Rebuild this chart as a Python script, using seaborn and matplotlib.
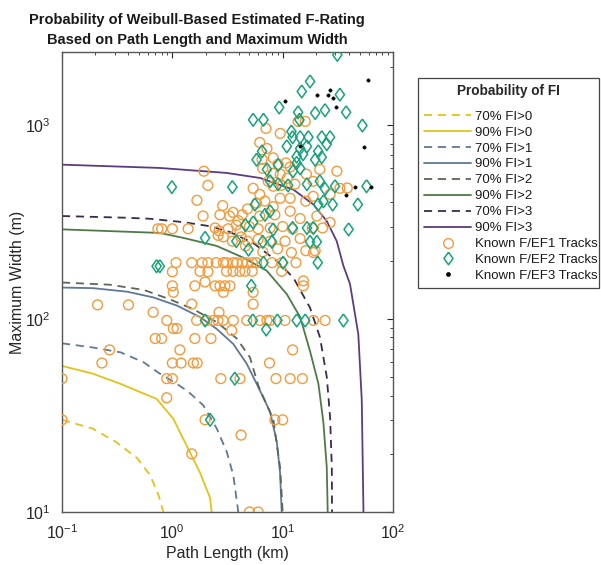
import numpy as np
import pandas as pd
import matplotlib
matplotlib.use("Agg")
import matplotlib.pyplot as plt
import seaborn as sns
from matplotlib.lines import Line2D
from matplotlib.ticker import LogLocator, NullFormatter

# ---------------- data ----------------
# contour curves: path length (km), max width (m)
c70_0_L = [0.1, 0.19, 0.31, 0.48, 0.63, 0.75, 0.83]
c70_0_W = [30, 27, 23, 19, 15.5, 12.2, 10]
c90_0_L = [0.1, 0.19, 0.34, 0.55, 0.72, 1.02, 1.35, 1.78, 2.2, 2.27]
c90_0_W = [57, 52, 46, 41, 38.5, 30.4, 22, 16, 11.8, 10]
c70_1_L = [0.1, 0.19, 0.34, 0.55, 0.77, 1.1, 1.39, 1.91, 2.53, 3.11, 3.57, 3.96]
c70_1_W = [74.6, 71, 67, 59.5, 52, 46, 42, 35.6, 27, 20.5, 15.5, 10]
c90_1_L = [0.1, 0.19, 0.39, 0.67, 1.1, 1.78, 2.53, 3.57, 4.73, 5.82, 7.69, 8.85, 9.47, 9.8]
c90_1_W = [145, 144, 138, 129, 117, 102, 88.5, 74, 58.4, 46, 33, 23, 16, 10]
c70_2_L = [0.1, 0.27, 0.55, 0.95, 1.55, 2.53, 3.84, 5.06, 6.02, 8.24, 9.47, 10.0]
c70_2_W = [154, 150, 141, 126, 112, 96, 79, 63, 45, 30, 17, 10]
c90_2_L = [0.1, 0.77, 1.26, 2.53, 4.4, 7.18, 10.9, 14.4, 17.7, 21.1, 23.4, 25.1, 25.6]
c90_2_W = [290, 278, 262, 238, 207, 177, 134, 102, 68, 46, 29, 17, 10]
c70_3_L = [0.1, 0.39, 0.63, 1.26, 2.2, 3.33, 5.5, 8.85, 12.5, 17.7, 21.8, 25.1, 26.9, 27.9, 28.0]
c70_3_W = [340, 333, 329, 316, 301, 281, 245, 199, 163, 114, 80, 50, 31, 17, 10]
c90_3_L = [0.1, 0.77, 3.11, 6.24, 12.5, 19, 25.1, 30.9, 35.5, 40.8, 48.5, 52.1, 54]
c90_3_W = [627, 603, 568, 535, 466, 390, 320, 252, 188, 151, 83, 38, 10]

curve_labels = ["70% FI>0", "90% FI>0", "70% FI>1", "90% FI>1",
                "70% FI>2", "90% FI>2", "70% FI>3", "90% FI>3"]

# known tracks: path length (km), max width (m)
ef1_L = [7.06, 16, 13.8, 9.5, 6.2, 7.2, 6.5, 8.2, 9.1, 10.7, 6.6, 8.2, 9.5, 11.7, 11, 7.4, 5.4, 6.2,
         5.8, 8.2, 9.8, 12.9, 16.4, 21.7, 31, 18.9, 33, 26.9, 16.2, 18.9, 11.7, 9.5, 8.2, 6.9, 4.8,
         4.3, 6.2, 8.5, 11.7, 14.4, 20.4, 12.3, 10, 7.7, 6, 5, 4.1, 4.8, 6, 7.7, 10.5, 14.4, 18.5,
         19.7, 16.2, 6.6, 9, 12, 38.5, 23, 26.9,
         1.93, 2.1, 1.67, 1.9, 2.86, 2.7, 3.3, 3.55, 3.95, 3.8, 0.74, 0.8, 1.0, 1.39, 2.44, 2.65,
         2.6, 2.9, 3.2, 3.5, 4.2, 4.6,
         1.08, 1.5, 1.86, 2.1, 2.5, 2.9, 3.1, 3.55, 3.85, 4.3, 4.75, 5.3, 5.8, 8, 9.8, 13.2,
         1.0, 1.78, 2.1, 3.1, 3.55, 4.1, 4.55, 5.3, 9.8, 15.4, 19,
         1.0, 1.6, 1.98, 2.44, 2.7, 3.0, 3.33, 15.4, 1.02, 2.9, 5.4, 1.5, 5.4, 2.65, 3.45,
         0.21, 0.4, 0.67, 0.89, 1.02, 1.1, 0.7, 0.8, 0.27, 0.23, 1.17, 1.0, 1.2, 1.55, 1.68,
         1.6, 2.24, 0.89, 1.0, 0.1, 2.75, 4.1, 8.7, 11.7, 15.1, 7.6, 12.3, 0.89, 0.1, 1.98,
         8.5, 10, 4.2, 1.5, 5.0, 6.0,
         1.66, 2.05, 2.35, 2.59, 2.88, 3.57, 4.73, 6.24, 7.2, 7.7, 10.5, 19, 24.2]
ef1_W = [966, 1050, 1050, 910, 817, 760, 668, 680, 630, 640, 600, 566, 560, 610, 533, 514, 473, 440,
         396, 485, 490, 497, 560, 593, 580, 514, 473, 440, 406, 430, 420, 420, 380, 406, 370,
         345, 340, 345, 360, 330, 340, 292, 300, 295, 292, 300, 285, 252, 258, 252, 252, 260, 295,
         225, 225, 222, 230, 220, 475, 295, 315,
         580, 490, 410, 340, 385, 345, 340, 355, 322, 305, 292, 292, 292, 292, 295, 285,
         270, 265, 292, 252, 265, 238,
         195, 195, 195, 195, 195, 195, 195, 195, 195, 195, 195, 195, 195, 195, 195, 195,
         175, 176, 175, 176, 176, 176, 176, 176, 176, 157, 220,
         148, 148, 155, 148, 148, 148, 148, 148, 137, 137, 137, 119, 119, 108, 87,
         118, 118, 108, 98, 89, 89, 79, 79, 69, 59, 69, 59, 59, 59, 59,
         79, 79, 49, 49, 49, 49, 49, 49, 49, 49, 59, 69, 39, 30, 30,
         30, 30, 25, 20, 10, 10,
         98, 98, 98, 98, 98, 98, 98, 98, 98, 98, 98, 98, 98]

ef2_L = [31.3, 17.7, 14.9, 33, 9.3, 13.8, 19.7, 24.2, 37.6, 52.8, 6.7, 14.2, 12, 12.3, 14.4, 17.1,
         22.6, 26.9, 25.1, 19.7, 21, 22.6, 5.4, 6.5, 5.8, 7.2, 10.9, 14.4, 16.6, 13.4, 15.3, 13.4,
         9.1, 12.4, 14.4, 11.2, 7.7, 9.1, 16.6, 21.7, 24.2, 29.8, 57.6, 48, 39.6, 21, 23.4, 28.4,
         0.99, 3.5, 1.98, 5.6, 6.9, 7.7, 5.4, 4.6, 6.6, 8.0, 12.3, 16.6, 19, 17.7, 20.4, 8.2,
         3.8, 4.9, 0.72, 0.77, 6.7, 10.1, 20.8, 5.2, 1.98, 5.36, 8.96, 13.4, 16, 35.5, 7.1,
         3.68, 2.2]
ef2_W = [2320, 1690, 1500, 1445, 1240, 1170, 1160, 1200, 1170, 1000, 1070, 1070, 930, 870, 870, 870,
         870, 870, 800, 665, 735, 685, 1070, 735, 665, 593, 780, 760, 780, 690, 710, 640,
         625, 580, 600, 490, 515, 497, 497, 515, 470, 485, 485, 390, 290, 390, 405, 390,
         480, 480, 262, 390, 345, 360, 315, 305, 250, 250, 295, 295, 295, 250, 250, 290,
         252, 228, 187, 187, 195, 195, 195, 148, 98, 98, 98, 98, 98, 98, 88,
         49, 30]

ef3_L = [10.5, 20.4, 26.9, 25.9, 28.4, 30.5, 59.8, 55, 14.4, 45.3, 63, 37.6]
ef3_W = [1334, 1445, 1535, 1445, 1390, 1250, 1726, 772, 782, 480, 480, 435]

# ---------------- style ----------------
sns.set_style("white")
plt.rcParams["font.family"] = ["Liberation Sans", "DejaVu Sans"]
plt.rcParams["mathtext.fontset"] = "custom"
plt.rcParams["mathtext.rm"] = "Liberation Sans"
plt.rcParams["mathtext.it"] = "Liberation Sans:italic"
plt.rcParams["mathtext.bf"] = "Liberation Sans:bold"

YEL = "#E3C21A"
BLU = "#5E7896"
OLV = "#5C6656"
GRN = "#4E7A45"
DPU = "#3A2B4F"
PUR = "#5B3C80"
ORANGE = "#F39A3C"
TEAL = "#17A37A"

fig = plt.figure(figsize=(6.01, 5.65), dpi=100)
ax = fig.add_axes([62 / 601, 1 - 512 / 565, (393 - 62) / 601, (512 - 52) / 565])
ax.set_xscale("log")
ax.set_yscale("log")

curves = [(c70_0_L, c70_0_W, YEL, "--"), (c90_0_L, c90_0_W, YEL, "-"),
          (c70_1_L, c70_1_W, BLU, "--"), (c90_1_L, c90_1_W, BLU, "-"),
          (c70_2_L, c70_2_W, OLV, "--"), (c90_2_L, c90_2_W, GRN, "-"),
          (c70_3_L, c70_3_W, DPU, "--"), (c90_3_L, c90_3_W, PUR, "-")]

DASH = (4.5, 3.2)
for (L, W, col, ls), lab in zip(curves, curve_labels):
    df = pd.DataFrame({"L": L, "W": W})
    sns.lineplot(data=df, x="L", y="W", ax=ax, color=col, linewidth=1.3,
                 sort=False, estimator=None, legend=False)
    ln = ax.lines[-1]
    ln.set_linestyle(ls)
    if ls == "--":
        ln.set_dashes(DASH)

diamond = [(0, 1), (0.72, 0), (0, -1), (-0.72, 0), (0, 1)]

sns.scatterplot(x=ef1_L, y=ef1_W, ax=ax, marker="o", s=50, facecolor="none",
                edgecolor=ORANGE, linewidth=1.0, legend=False, zorder=3)
sns.scatterplot(x=ef2_L, y=ef2_W, ax=ax, marker=diamond, s=85, facecolor="none",
                edgecolor=TEAL, linewidth=1.1, legend=False, zorder=4)
sns.scatterplot(x=ef3_L, y=ef3_W, ax=ax, marker="o", s=6, color="black",
                edgecolor="black", linewidth=0.3, legend=False, zorder=5)

ax.set_xlim(0.1, 100)
ax.set_ylim(10, 2400)

ax.xaxis.set_major_locator(LogLocator(base=10, numticks=10))
ax.yaxis.set_major_locator(LogLocator(base=10, numticks=10))
ax.xaxis.set_minor_locator(LogLocator(base=10, subs=np.arange(2, 10), numticks=20))
ax.yaxis.set_minor_locator(LogLocator(base=10, subs=np.arange(2, 10), numticks=20))
ax.xaxis.set_minor_formatter(NullFormatter())
ax.yaxis.set_minor_formatter(NullFormatter())
ax.tick_params(which="both", direction="in", top=True, right=True, colors="#262626",
               labelcolor="#262626")
ax.tick_params(which="major", length=4, width=0.8, labelsize=11.5)
ax.tick_params(axis="x", which="major", pad=8)
ax.tick_params(axis="y", which="major", pad=8)
ax.tick_params(which="minor", length=2, width=0.6)
for sp in ax.spines.values():
    sp.set_color("#555555")
    sp.set_linewidth(1.0)

ax.set_xlabel("Path Length (km)", fontsize=11.5, color="#262626", labelpad=3)
ax.set_ylabel("Maximum Width (m)", fontsize=11.5, color="#262626", labelpad=0)
ax.set_title("Probability of Weibull-Based Estimated F-Rating\nBased on Path Length and Maximum Width",
             fontsize=10.5, fontweight="bold", color="#1a1a1a", pad=6, linespacing=1.55,
             x=(197 - 62) / (393 - 62))

# legend
handles = []
for (L, W, col, ls), lab in zip(curves, curve_labels):
    h = Line2D([], [], color=col, linestyle=ls, linewidth=1.3, label=lab)
    if ls == "--":
        h.set_dashes(DASH)
    handles.append(h)
handles.append(Line2D([], [], linestyle="none", marker="o", markersize=7, markerfacecolor="none",
                      markeredgecolor=ORANGE, markeredgewidth=1.0, label="Known F/EF1 Tracks"))
handles.append(Line2D([], [], linestyle="none", marker=diamond, markersize=9, markerfacecolor="none",
                      markeredgecolor=TEAL, markeredgewidth=1.1, label="Known F/EF2 Tracks"))
handles.append(Line2D([], [], linestyle="none", marker="o", markersize=2.4, color="black",
                      label="Known F/EF3 Tracks"))

leg = fig.legend(handles=handles, loc="upper left",
                 bbox_to_anchor=(418 / 601, 1 - 78 / 565, (599 - 418) / 601, 0.0),
                 mode="expand", borderaxespad=0, fontsize=9.5, title="Probability of FI",
                 title_fontproperties={"weight": "bold", "size": 9.8},
                 handlelength=3.6, handletextpad=0.3, labelspacing=0.28,
                 borderpad=0.45, frameon=True, fancybox=False, framealpha=1,
                 edgecolor="#444444")
leg._legend_box.sep = 9
leg.get_frame().set_linewidth(0.9)
for t in leg.get_texts():
    t.set_color("#1a1a1a")

fig.add_artist(Line2D([418 / 601, 599 / 601], [1 - 100 / 565, 1 - 100 / 565],
                      transform=fig.transFigure, color="#444444", linewidth=0.8))

fig.savefig("out.png", dpi=100)
